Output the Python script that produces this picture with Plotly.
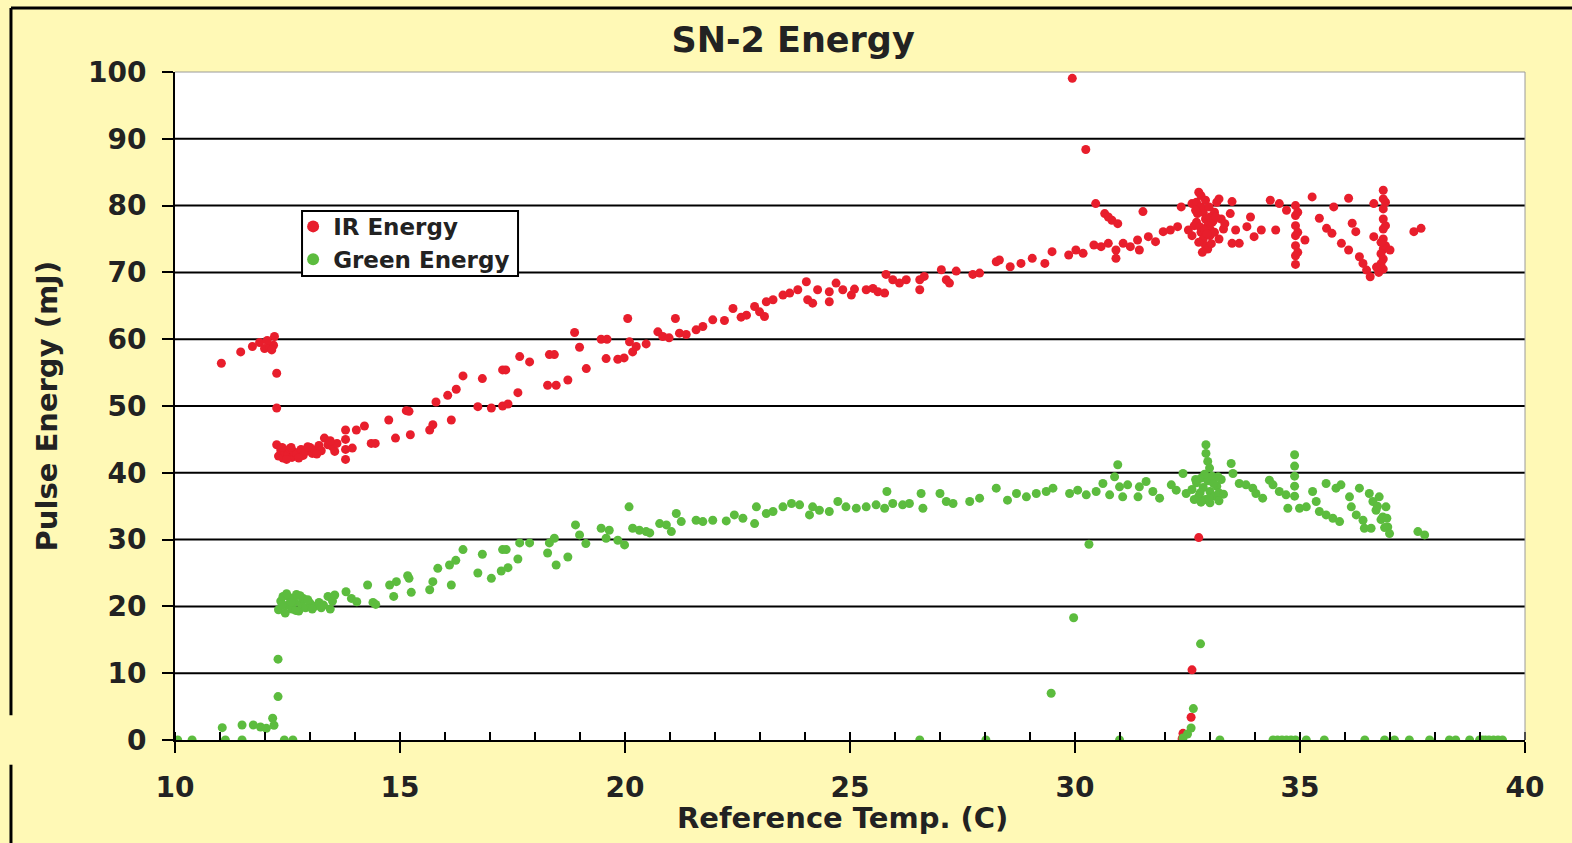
import plotly.graph_objects as go

# ---------------- data ----------------
ir_temp = [
    11.03, 11.46, 11.72, 11.88, 11.99, 12.10, 12.21, 12.19, 12.05, 12.15, 12.26, 12.26, 12.26,
    12.30, 12.35, 12.40, 12.45, 12.50, 12.55, 12.60, 12.65, 12.70, 12.80, 12.85, 12.90, 13.00,
    13.05, 13.10, 13.20, 13.25, 13.32, 13.40, 13.50, 13.60, 13.79, 13.79, 13.79, 13.79, 14.03,
    14.21, 13.94, 14.36, 14.45, 14.75, 14.90, 15.14, 15.20, 15.23, 15.66, 15.73, 15.80, 16.06,
    16.25, 16.14, 16.40, 16.73, 16.83, 17.03, 17.28, 17.40, 17.28, 17.35, 17.62, 17.66, 17.88,
    18.28, 18.47, 18.32, 18.43, 18.73, 18.88, 18.99, 19.14, 19.47, 19.60, 19.58, 19.84, 19.98,
    20.06, 20.10, 20.17, 20.25, 20.47, 20.73, 20.84, 20.98, 21.12, 21.21, 21.36, 21.58, 21.73,
    21.95, 22.21, 22.40, 22.58, 22.70, 22.88, 22.99, 23.10, 23.14, 23.29, 23.51, 23.66, 23.84,
    24.03, 24.06, 24.17, 24.28, 24.54, 24.54, 24.69, 24.84, 25.03, 25.10, 25.36, 25.51, 25.62,
    25.77, 25.80, 25.95, 26.10, 26.25, 26.55, 26.55, 26.65, 27.03, 27.14, 27.21, 27.36, 27.73,
    27.88, 28.25, 28.32, 28.56, 28.80, 29.05, 29.33, 29.49, 29.86, 29.94, 30.24, 30.02, 30.18,
    30.42, 30.58, 30.74, 30.91, 30.91, 31.07, 31.23, 31.39, 31.43, 30.46, 30.66, 30.82, 30.95,
    30.74, 31.51, 31.63, 31.79, 31.96, 32.12, 32.28, 32.36, 32.52, 32.60,
    32.70, 32.75, 32.80, 32.85, 32.90, 32.95, 33.00, 32.80, 32.85, 32.90, 32.95, 33.00, 33.05,
    33.10, 33.15, 33.20, 33.25, 33.30, 32.70, 32.75, 32.60, 32.65, 32.80, 32.90, 33.00, 33.10,
    33.20, 33.49, 33.45, 33.33, 33.57, 33.65, 33.49, 33.90, 33.82, 33.98, 34.14, 34.34, 34.54,
    34.46, 34.70, 34.90, 34.90, 34.90, 34.90, 34.90, 34.90, 34.90, 34.95, 34.95, 34.95, 35.11,
    35.27, 35.43, 35.59, 35.71, 35.75, 35.92, 36.08, 36.08, 36.16, 36.24, 36.32, 36.40, 36.48,
    36.56, 36.64, 36.64, 36.85, 36.85, 36.85, 36.85, 36.85, 36.85, 36.85, 36.85, 36.85, 36.90,
    36.90, 36.90, 37.00, 37.53, 37.69,
    12.38, 12.48, 12.58, 12.75, 12.95, 13.15, 13.45, 13.55,
    32.72, 32.78, 32.88, 32.98, 33.08, 32.68, 32.83, 32.93, 33.03, 33.13,
    36.80, 36.80, 36.80, 36.75, 36.70,
    32.75, 32.60, 32.58, 32.40, 32.38,
]
ir_energy = [
    56.4, 58.1, 58.9, 59.5, 58.6, 58.9, 60.4, 59.1, 59.8, 58.4, 54.9, 49.7, 44.2,
    42.5, 43.4, 42.2, 43.0, 42.6, 43.6, 42.3, 43.1, 42.8, 43.5, 42.6, 43.2, 43.8,
    42.9, 43.4, 44.1, 43.3, 45.2, 44.2, 43.9, 44.4, 46.4, 45.0, 43.5, 42.0, 46.4,
    47.0, 43.7, 44.4, 44.4, 47.9, 45.2, 49.3, 49.2, 45.7, 46.4, 47.2, 50.6, 51.6,
    52.5, 47.9, 54.5, 49.9, 54.1, 49.7, 50.0, 50.3, 55.4, 55.4, 52.0, 57.4, 56.6,
    53.1, 53.1, 57.7, 57.7, 53.9, 61.0, 58.8, 55.6, 60.0, 60.0, 57.1, 57.0, 57.2,
    63.1, 59.6, 58.1, 58.9, 59.3, 61.1, 60.4, 60.2, 63.1, 60.9, 60.7, 61.4, 61.9,
    62.9, 62.8, 64.6, 63.3, 63.6, 64.9, 64.1, 63.4, 65.6, 65.9, 66.6, 66.9, 67.4,
    68.6, 65.9, 65.4, 67.4, 67.1, 65.6, 68.4, 67.4, 66.6, 67.5, 67.4, 67.6, 67.1,
    66.9, 69.7, 68.9, 68.4, 68.9, 68.9, 67.4, 69.4, 70.4, 68.9, 68.4, 70.2, 69.7,
    69.9, 71.6, 71.85, 70.85, 71.35, 72.1, 71.35, 73.1, 72.6, 99.05, 88.4, 73.35, 72.85,
    74.1, 73.85, 74.35, 73.35, 72.1, 74.35, 73.85, 74.85, 73.35, 80.3, 78.8, 77.8, 77.3,
    78.3, 79.1, 75.35, 74.6, 76.1, 76.35, 76.85, 79.8, 76.35, 80.3,
    80.5, 82.0, 81.5, 79.0, 78.0, 77.0, 76.5, 76.0, 75.0, 74.0, 73.5, 75.5, 77.5,
    79.0, 80.5, 81.0, 78.0, 76.5, 77.5, 74.5, 75.5, 77.0, 79.8, 80.8, 78.3, 76.0,
    75.0, 80.6, 78.8, 77.3, 76.35, 74.35, 74.35, 78.3, 76.85, 75.35, 76.35, 80.8, 80.3,
    76.35, 79.3, 80.0, 78.5, 77.0, 75.5, 74.0, 72.5, 71.2, 79.0, 76.0, 73.0, 74.85,
    81.3, 78.1, 76.6, 75.85, 79.8, 74.35, 81.1, 73.35, 77.35, 76.1, 72.35, 71.35, 70.35,
    69.35, 80.3, 75.35, 82.3, 81.0, 79.5, 78.0, 76.5, 75.0, 73.5, 72.0, 70.5, 80.5,
    77.0, 74.0, 73.35, 76.1, 76.6,
    43.8, 42.0, 43.8, 42.2, 43.9, 42.8, 44.8, 43.2,
    78.8, 76.8, 76.3, 79.8, 77.8, 79.3, 73.0, 75.8, 74.3, 78.3,
    74.5, 72.8, 71.3, 70.0, 70.8,
    30.3, 10.5, 3.4, 1.0, 0.2,
]

green_temp = [
    10.06, 10.38, 11.12, 11.49, 12.43, 12.62,
    11.05, 11.49, 11.74, 11.90, 12.03, 12.17, 12.20, 12.29, 12.29,
    12.30, 12.35, 12.40, 12.45, 12.50, 12.55, 12.60, 12.65, 12.70, 12.75, 12.80, 12.85, 12.90,
    13.00, 13.10, 13.20, 13.30, 13.40, 13.50, 13.45,
    12.38, 12.48, 12.58, 12.68, 12.78, 12.95, 13.05, 13.25, 13.55,
    13.80, 13.92, 14.04, 14.28, 14.40, 14.46, 14.77, 14.92, 14.86, 15.17, 15.20, 15.25, 15.66,
    15.73, 15.84, 16.10, 16.24, 16.14, 16.40, 16.73, 16.83, 17.03, 17.25, 17.40, 17.28, 17.36,
    17.62, 17.66, 17.88, 18.28, 18.32, 18.43, 18.47, 18.73, 18.90, 18.99, 19.13, 19.47, 19.65,
    19.58, 19.84, 19.99, 20.09, 20.17, 20.32, 20.47,
    20.55, 20.77, 20.92, 21.03, 21.14, 21.25, 21.58, 21.73, 21.95, 22.25, 22.43, 22.62, 22.88,
    22.92, 23.14, 23.29, 23.51, 23.70, 23.88, 24.10, 24.17, 24.32, 24.54, 24.73, 24.91, 25.14,
    25.36, 25.58, 25.77, 25.82, 25.95, 26.17, 26.32, 26.58, 26.62, 27.00, 27.14, 27.29, 27.66,
    27.88, 28.25, 28.50, 28.70, 28.92, 29.14, 29.36,
    29.51, 29.88, 30.06, 30.25, 30.47, 30.62, 30.77, 30.88, 30.95, 30.99, 31.06, 31.17, 31.40,
    31.43, 31.58, 31.73, 31.88, 32.14, 32.25, 32.40, 32.47,
    32.91, 32.91, 32.95, 32.99,
    32.60, 32.70, 32.75, 32.80, 32.85, 32.90, 32.95, 33.00, 33.05, 33.10, 33.15, 33.20, 33.25,
    33.30, 32.65, 32.80, 33.00, 33.20,
    32.68, 32.78, 32.88, 32.98, 33.08, 33.18,
    33.47, 33.51, 33.65, 33.80, 33.95, 34.02, 34.17, 34.32, 34.40, 34.54, 34.69, 34.73,
    34.88, 34.88, 34.88, 34.88, 34.88,
    34.99, 35.14, 35.28, 35.36, 35.43, 35.58, 35.58, 35.73, 35.80, 35.91, 35.88, 36.10, 36.14,
    36.25, 36.32, 36.40, 36.43, 36.54, 36.58, 36.62, 36.69, 36.76, 36.84, 36.91, 36.95, 36.99,
    36.72, 36.80, 36.88, 36.93,
    37.62, 37.77,
    30.31, 29.97, 29.47, 32.79, 32.63, 32.58, 32.50, 32.40,
    26.55, 28.02, 30.99, 33.22, 34.40, 34.50, 34.60, 34.70, 34.80, 34.90, 35.14, 35.54, 36.44,
    36.88, 37.10, 37.43, 37.88, 38.32, 38.46, 38.77, 38.99, 39.05, 39.12, 39.20, 39.30, 39.40,
    39.50,
]
green_energy = [
    0, 0, 0, 0, 0, 0,
    1.85, 2.25, 2.25, 1.95, 1.75, 3.25, 2.2, 6.5, 12.1,
    19.5, 20.8, 21.5, 19.0, 20.2, 21.3, 19.6, 20.7, 21.8, 19.3, 20.4, 21.2, 19.8,
    20.5, 20.0, 20.6, 20.2, 21.5, 20.8, 19.6,
    20.2, 21.9, 20.6, 19.4, 21.6, 21.0, 19.6, 19.8, 21.7,
    22.2, 21.2, 20.7, 23.2, 20.6, 20.3, 23.2, 23.7, 21.5, 24.6, 24.2, 22.1, 22.5,
    23.7, 25.7, 26.2, 26.9, 23.2, 28.5, 25.0, 27.8, 24.2, 25.3, 25.8, 28.5, 28.5,
    27.1, 29.5, 29.5, 28.0, 29.5, 30.2, 26.2, 27.4, 32.2, 30.7, 29.4, 31.7, 31.4,
    30.2, 29.9, 29.2, 34.9, 31.7, 31.4, 31.2,
    31.0, 32.4, 32.2, 31.2, 33.9, 32.7, 32.9, 32.7, 32.9, 32.8, 33.7, 33.2, 32.4,
    34.9, 33.9, 34.2, 34.9, 35.4, 35.2, 33.7, 34.9, 34.4, 34.2, 35.7, 34.9, 34.7,
    34.9, 35.2, 34.7, 37.2, 35.4, 35.2, 35.4, 36.9, 34.7, 36.9, 35.7, 35.4, 35.7,
    36.2, 37.7, 35.9, 36.9, 36.4, 36.9, 37.2,
    37.7, 36.9, 37.4, 36.7, 37.2, 38.4, 36.7, 39.4, 41.2, 37.9, 36.4, 38.2, 36.4,
    37.9, 38.7, 37.2, 36.2, 38.2, 37.4, 39.9, 36.9,
    44.2, 42.9, 41.7, 40.7,
    37.5, 38.5, 36.5, 39.2, 37.8, 36.0, 38.8, 37.2, 39.5, 36.5, 38.0, 37.0, 39.0,
    36.8, 36.0, 35.6, 35.5, 35.8,
    39.0, 37.0, 39.8, 36.2, 38.4, 39.4,
    41.4, 39.9, 38.4, 38.2, 37.7, 36.9, 36.2, 38.9, 38.2, 37.2, 36.7, 34.7,
    42.7, 41.0, 39.5, 38.0, 36.5,
    34.7, 34.9, 37.2, 35.7, 34.2, 38.4, 33.7, 33.2, 37.7, 38.2, 32.7, 36.4, 34.9,
    33.7, 37.7, 32.9, 31.7, 36.9, 31.7, 35.7, 34.4, 36.4, 33.4, 34.9, 31.9, 30.9,
    35.0, 33.0, 31.8, 33.2,
    31.2, 30.7,
    29.3, 18.3, 7.0, 14.4, 4.7, 1.8, 0.9, 0.3,
    0, 0, 0, 0, 0, 0, 0, 0, 0, 0, 0, 0, 0,
    0, 0, 0, 0, 0, 0, 0, 0, 0, 0, 0, 0, 0,
    0,
]

x_ticks = [10, 15, 20, 25, 30, 35, 40]
y_ticks = [0, 10, 20, 30, 40, 50, 60, 70, 80, 90, 100]

# ---------------- styling ----------------
RED = "#E81E2C"
GREEN = "#5CBC3E"
PAPER = "#FFF9B6"
FONT = "DejaVu Sans"
TXT = "#222222"

fig = go.Figure()
fig.add_trace(go.Scatter(
    x=ir_temp, y=ir_energy, mode="markers", name="IR Energy",
    marker=dict(color=RED, size=9, line=dict(width=0)), legendgroup="a",
))
fig.add_trace(go.Scatter(
    x=green_temp, y=green_energy, mode="markers", name="Green Energy",
    marker=dict(color=GREEN, size=9, line=dict(width=0)), legendgroup="b",
))

# horizontal grid lines (black), drawn below the markers
for v in y_ticks[1:-1]:
    fig.add_shape(type="line", xref="paper", yref="y", x0=0, x1=1, y0=v, y1=v,
                  line=dict(color="black", width=2), layer="below")

# thin grey top/right plot border
fig.add_shape(type="line", xref="paper", yref="paper", x0=0, x1=1, y0=1, y1=1,
              line=dict(color="#9a9a9a", width=1))
fig.add_shape(type="line", xref="paper", yref="paper", x0=1, x1=1, y0=0, y1=1,
              line=dict(color="#9a9a9a", width=1))

# legend box (white, black border)
fig.add_shape(type="rect", xref="paper", yref="paper", x0=0.0941, x1=0.2541, y0=0.6946, y1=0.7919,
              line=dict(color="black", width=2), fillcolor="white", layer="above")

# outer chart frame (top and left edges)
fig.add_shape(type="line", xref="paper", yref="paper", x0=-0.1215, x1=1.05, y0=1.0958, y1=1.0958,
              line=dict(color="black", width=3))
fig.add_shape(type="line", xref="paper", yref="paper", x0=-0.1215, x1=-0.1215, y0=1.0958, y1=0.037,
              line=dict(color="black", width=3))
fig.add_shape(type="line", xref="paper", yref="paper", x0=-0.1215, x1=-0.1215, y0=-0.037, y1=-0.16,
              line=dict(color="black", width=3))

fig.update_layout(
    width=1572, height=843,
    paper_bgcolor=PAPER, plot_bgcolor="white",
    margin=dict(l=175, r=47, t=72, b=103, autoexpand=False),
    font=dict(family=FONT, color=TXT),
    title=dict(text="SN-2 Energy", x=0.5045, xanchor="center", y=0.9526, yanchor="middle",
               font=dict(size=35, family=FONT, color=TXT, weight="bold")),
    showlegend=True,
    legend=dict(x=0.0875, y=0.801, xanchor="left", yanchor="top",
                bgcolor="rgba(0,0,0,0)", borderwidth=0,
                font=dict(size=23, family=FONT, color=TXT, weight="bold"),
                tracegroupgap=0, itemwidth=30, itemsizing="constant"),
    xaxis=dict(range=[10, 40], tickvals=x_ticks, ticks="outside", ticklen=11, tickwidth=2,
               tickcolor="black", showline=True, linecolor="black", linewidth=2,
               showgrid=False, zeroline=False,
               minor=dict(dtick=1, ticks="inside", ticklen=8, tickwidth=2, tickcolor="black",
                          showgrid=False),
               tickfont=dict(size=28, family=FONT, color=TXT, weight="bold"),
               ticklabelstandoff=10),
    yaxis=dict(range=[0, 100], tickvals=y_ticks, ticks="outside", ticklen=11, tickwidth=2,
               tickcolor="black", showline=True, linecolor="black", linewidth=2,
               showgrid=False, zeroline=False,
               tickfont=dict(size=28, family=FONT, color=TXT, weight="bold"),
               ticklabelstandoff=10),
    annotations=[
        dict(text="Reference Temp. (C)", xref="paper", yref="paper", x=0.4948, y=-0.1168,
             xanchor="center", yanchor="middle", showarrow=False,
             font=dict(size=29, family=FONT, color=TXT, weight="bold")),
        dict(text="Pulse Energy (mJ)", xref="paper", yref="paper", x=-0.0945, y=0.5,
             xanchor="center", yanchor="middle", showarrow=False, textangle=-90,
             font=dict(size=29, family=FONT, color=TXT, weight="bold")),
    ],
)

fig.write_html("out.html", config={"displayModeBar": False},
               post_script="document.body.style.margin='0';document.body.style.overflow='hidden';")
